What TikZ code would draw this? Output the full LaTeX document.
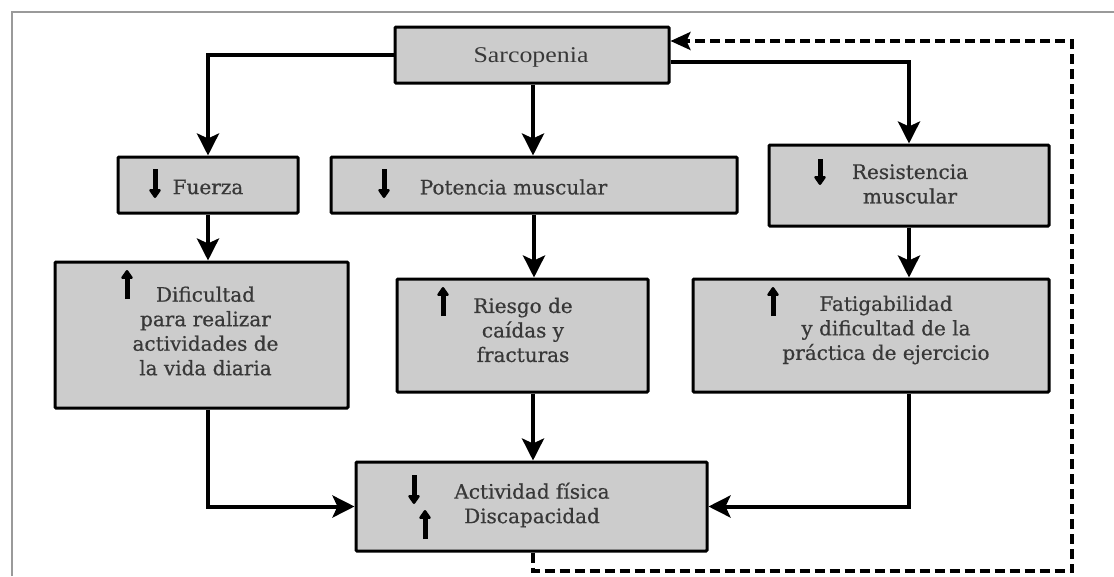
\documentclass[tikz,border=0pt]{standalone}
\usepackage{fontspec}
\setmainfont[FakeBold=0.6]{DejaVu Serif}
\newfontfamily\sarcfont[FakeStretch=1.15]{Liberation Serif}
\usetikzlibrary{arrows.meta}
\definecolor{boxfill}{HTML}{CCCCCC}
\definecolor{txtc}{HTML}{383838}
\definecolor{framec}{HTML}{9A9A9A}
\begin{document}
\begin{tikzpicture}[x=1pt,y=-1pt,
  box/.style={draw=black,line width=3pt,fill=boxfill,rounded corners=1pt,inner sep=0pt},
  lbl/.style={text=txtc,align=center,inner sep=0pt,font=\fontsize{20}{24.5}\selectfont},
  conn/.style={line width=4pt,-{Stealth[length=22pt,width=22pt,inset=5pt]}},
  fb/.style={line width=3.5pt,dash pattern=on 10pt off 5pt,-{Stealth[length=20pt,width=18pt,inset=4pt]}},
  icon/.style={line width=5pt,-{Triangle[length=10pt,width=13pt,round]}}]
\fill[white] (0,0) rectangle (1114,576);
\useasboundingbox (0,0) rectangle (1114,576);
\draw[framec,line width=2pt] (12,576) -- (12,12) -- (1114,12);

% boxes
\node[box,minimum width=274pt,minimum height=56pt] (sarc) at (532,55) {};
\node[box,minimum width=180pt,minimum height=56pt] (fuerza) at (208,185) {};
\node[box,minimum width=406pt,minimum height=56pt] (poten) at (534,185) {};
\node[box,minimum width=280pt,minimum height=81pt] (resist) at (909,185.5) {};
\node[box,minimum width=293pt,minimum height=146pt] (dific) at (201.5,335) {};
\node[box,minimum width=251pt,minimum height=113pt] (riesgo) at (522.5,335.5) {};
\node[box,minimum width=356pt,minimum height=113pt] (fatig) at (871,335.5) {};
\node[box,minimum width=351pt,minimum height=89pt] (activ) at (531.5,506.5) {};

% texts
\node[lbl,font=\sarcfont\fontsize{22.5}{26}\selectfont] (tsarc) at (531,57) {Sarcopenia};
\node[lbl] (tfuerza) at (208,187) {Fuerza};
\node[lbl] (tpoten) at (513.5,187) {Potencia muscular};
\node[lbl] (tresist) at (910,184) {Resistencia\\muscular};
\node[lbl] (tdific) at (205.5,331) {Dificultad\\para realizar\\actividades de\\la vida diaria};
\node[lbl] (triesgo) at (523,330) {Riesgo de\\caídas y\\fracturas};
\node[lbl] (tfatig) at (886,330) {Fatigabilidad\\y dificultad de la\\práctica de ejercicio};
\node[lbl] (tactiv) at (532,505) {Actividad física\\Discapacidad};

% small arrows inside boxes
\draw[icon] (155,169) -- (155,198);
\draw[icon] (384,169) -- (384,198);
\draw[icon] (820,159) -- (820,185);
\draw[icon] (127,299) -- (127,270);
\draw[icon] (443,316) -- (443,287);
\draw[icon] (773,316) -- (773,287);
\draw[icon] (414,475) -- (414,504);
\draw[icon] (425,539) -- (425,510);

% connectors
\draw[conn] (sarc.west) -| (fuerza.north);
\draw[conn] ([xshift=1pt]sarc.south) -- ([xshift=1pt]sarc.south |- poten.north);
\draw[conn] ([yshift=-7pt]sarc.east) -| (resist.north);
\draw[conn] (fuerza.south) -- (fuerza.south |- dific.north);
\draw[conn] (poten.south) -- (poten.south |- riesgo.north);
\draw[conn] (resist.south) -- (resist.south |- fatig.north);
\draw[conn] (fuerza.south |- dific.south) |- (activ.west);
\draw[conn] ([xshift=1.5pt]activ.north |- riesgo.south) -- ([xshift=1.5pt]activ.north);
\draw[conn] (resist.south |- fatig.south) |- (activ.east);

% feedback dashed loop
\coordinate (fbcorner) at (1072,571);
\draw[fb] ([xshift=1.5pt]activ.south) |- (fbcorner) |- ([yshift=14pt]sarc.east);
\end{tikzpicture}
\end{document}
